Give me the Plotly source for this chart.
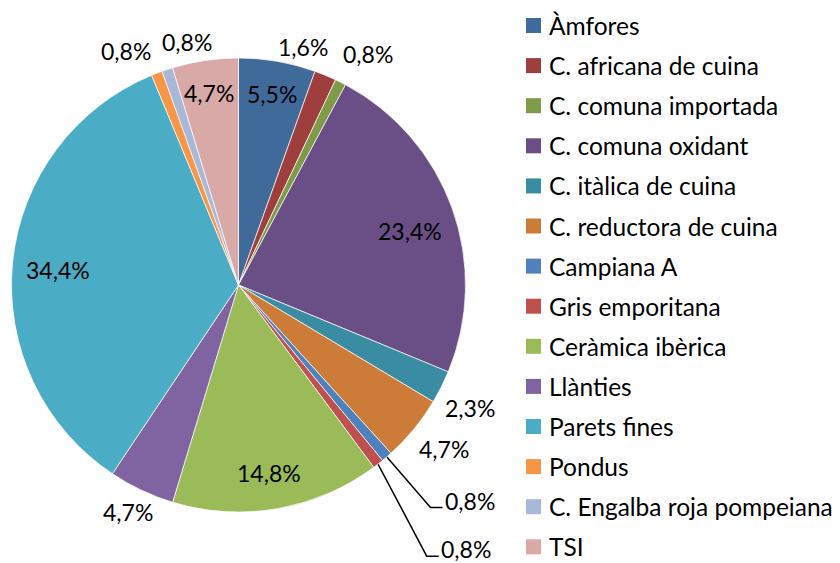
import math
import plotly.graph_objects as go

# Sherd counts per ware category (share of a total of 128 fragments)
categories = [
    "Àmfores", "C. africana de cuina", "C. comuna importada", "C. comuna oxidant",
    "C. itàlica de cuina", "C. reductora de cuina", "Campiana A", "Gris emporitana",
    "Ceràmica ibèrica", "Llànties", "Parets fines", "Pondus",
    "C. Engalba roja pompeiana", "TSI",
]
counts = [7, 2, 1, 30, 3, 6, 1, 1, 19, 6, 44, 1, 1, 6]
pct_labels = ["5,5%", "1,6%", "0,8%", "23,4%", "2,3%", "4,7%", "0,8%", "0,8%",
              "14,8%", "4,7%", "34,4%", "0,8%", "0,8%", "4,7%"]

colors = ["#3F6A9A", "#9F3F3D", "#7F9A48", "#6A4F86", "#3A8CA2", "#CD7B38", "#4F81BD",
          "#C0504D", "#9BBB59", "#8064A2", "#4BACC6", "#F79646", "#A9B8D7", "#D9A9A8"]

# Label placement per slice: (mode, angle nudge in degrees, radius factor)
placement = [
    ("in", 0.0, 0.855), ("out", -7.3, 1.086), ("out", 2.6, 1.167), ("in", 2.3, 0.79),
    ("out", 1.3, 1.155), ("out", -0.8, 1.16), ("leader", 0.0, 1.295), ("leader", 3.2, 1.454),
    ("in", 0.5, 0.84), ("out", 0.7, 1.115), ("in", -0.8, 0.80), ("out", -4.5, 1.145),
    ("out", 6.3, 1.095), ("in", -0.3, 0.855),
]

W, H = 840, 563
CX, CY, R = 238.5, 285.0, 227.0
FONT = "Lato"
PCT_SIZE = 23
LEG_SIZE = 24.5

fig = go.Figure()

fig.add_trace(go.Pie(
    labels=categories, values=counts, sort=False, direction="clockwise", rotation=0,
    marker=dict(colors=colors, line=dict(color="white", width=0.7)),
    textinfo="none", hoverinfo="label+percent", showlegend=False,
    domain=dict(x=[(CX - R) / W, (CX + R) / W], y=[1 - (CY + R) / H, 1 - (CY - R) / H]),
))

total = sum(counts)
cum = 0
annotations = []
for i, (val, txt) in enumerate(zip(counts, pct_labels)):
    mid = (cum + val / 2) / total * 360.0
    cum += val
    mode, dang, rf = placement[i]
    a = math.radians(mid + dang)
    px = CX + rf * R * math.sin(a)
    py = CY - rf * R * math.cos(a)
    if mode == "leader":
        a0 = math.radians(mid)
        sx = CX + 0.995 * R * math.sin(a0)
        sy = CY - 0.995 * R * math.cos(a0)
        ex = px + 12
        fig.add_trace(go.Scatter(
            x=[sx, px, ex], y=[sy, py, py], mode="lines",
            line=dict(color="black", width=1.5), hoverinfo="skip", showlegend=False,
            xaxis="x", yaxis="y",
        ))
        annotations.append(dict(x=ex, y=py - 7, xref="x", yref="y", text=txt,
                                showarrow=False, xanchor="left", yanchor="middle",
                                font=dict(family=FONT, size=PCT_SIZE, color="black")))
    else:
        annotations.append(dict(x=px, y=py, xref="x", yref="y", text=txt,
                                showarrow=False, xanchor="center", yanchor="middle",
                                font=dict(family=FONT, size=PCT_SIZE, color="black")))

# Legend: square swatches with category names in one column
leg_x = 533.5
leg_y0, leg_dy = 25.5, 40.1
fig.add_trace(go.Scatter(
    x=[leg_x] * len(categories),
    y=[leg_y0 + leg_dy * i for i in range(len(categories))],
    mode="markers", marker=dict(symbol="square", size=15, color=colors, line=dict(width=0)),
    hoverinfo="skip", showlegend=False, xaxis="x", yaxis="y",
))
for i, name in enumerate(categories):
    annotations.append(dict(x=leg_x + 13.5, y=leg_y0 + leg_dy * i, xref="x", yref="y",
                            text=name, showarrow=False, xanchor="left", yanchor="middle",
                            font=dict(family=FONT, size=LEG_SIZE, color="black")))

fig.update_layout(
    width=W, height=H, autosize=False,
    margin=dict(l=0, r=0, t=0, b=0),
    paper_bgcolor="white", plot_bgcolor="rgba(0,0,0,0)",
    xaxis=dict(range=[0, W], domain=[0, 1], visible=False, fixedrange=True),
    yaxis=dict(range=[H, 0], domain=[0, 1], visible=False, fixedrange=True),
    annotations=annotations,
    showlegend=False,
)

fig.write_html("out.html")
